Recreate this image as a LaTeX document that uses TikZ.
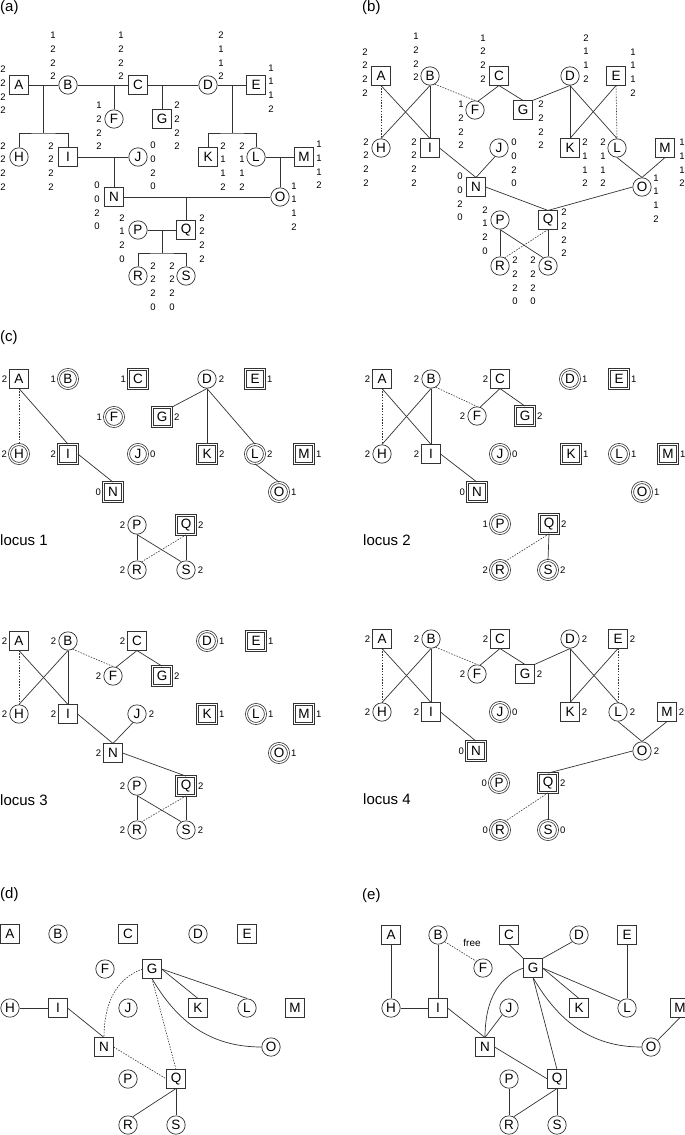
\documentclass[tikz,border=0pt]{standalone}
\usepackage{fontspec}
\setmainfont{Liberation Sans}
\newcommand\nodefnt{\fontsize{13.5}{15}\selectfont}
\newcommand\stkfnt{\fontsize{9.5}{13.7}\selectfont}
\newcommand\labfnt{\fontsize{9.5}{11}\selectfont}
\newcommand\bigfnt{\fontsize{15}{17}\selectfont}
\begin{document}
\begin{tikzpicture}[x=1pt,y=1pt,
  base/.style={draw=black!80, line width=0.7pt, minimum size=18.4pt, inner sep=0pt, font=\nodefnt},
  sq/.style={base, rectangle},
  ci/.style={base, circle},
  dsq/.style={sq, double, double distance=1.3pt, line width=0.75pt, minimum size=19pt},
  dci/.style={ci, double, double distance=1.3pt, line width=0.75pt, minimum size=19pt},
  lab/.style={font=\labfnt, inner sep=2pt},
  stk/.style={font=\stkfnt, align=center, inner sep=0pt},
  ed/.style={draw=black!80, line width=0.7pt},
  dt/.style={draw=black!80, line width=0.6pt, dash pattern=on 1.5pt off 1.3pt},
  ttl/.style={font=\bigfnt, anchor=west, inner sep=0pt},
  lb/.style={label={[lab]left:#1}},
  rb/.style={label={[lab]right:#1}}]
\useasboundingbox (0,0) rectangle (685,-1135);

% ================= (a) =================
\node[ttl] (ta) at (0,-8) {(a)};
\node[sq] (aA) at (19,-85) {A};
\node[ci] (aB) at (68,-85) {B};
\node[sq] (aC) at (138,-85) {C};
\node[ci] (aD) at (208,-85) {D};
\node[sq] (aE) at (256,-85) {E};
\node[ci] (aF) at (114,-119) {F};
\node[sq] (aG) at (162,-119) {G};
\node[ci] (aH) at (19,-157) {H};
\node[sq] (aI) at (68,-157) {I};
\node[ci] (aJ) at (138,-157) {J};
\node[sq] (aK) at (208,-157) {K};
\node[ci] (aL) at (256,-157) {L};
\node[sq] (aM) at (304,-157) {M};
\node[sq] (aN) at (114,-197) {N};
\node[ci] (aO) at (280,-197) {O};
\node[ci] (aP) at (138,-230) {P};
\node[sq] (aQ) at (186,-230) {Q};
\node[ci] (aR) at (138,-276) {R};
\node[ci] (aS) at (186,-276) {S};

\draw[ed] (aA) -- (aB); \draw[ed] (aB) -- (aC); \draw[ed] (aC) -- (aD); \draw[ed] (aD) -- (aE);
\draw[ed] (aI) -- (aJ); \draw[ed] (aL) -- (aM); \draw[ed] (aN) -- (aO); \draw[ed] (aP) -- (aQ);
\coordinate (aj1) at (43,-85); \coordinate (aj1b) at (43,-133);
\draw[ed] (aj1) -- (aj1b); \draw[ed] (aH) |- (aj1b) -| (aI);
\coordinate (aj2) at (114,-85); \draw[ed] (aj2) -- (aF);
\coordinate (aj3) at (162,-85); \draw[ed] (aj3) -- (aG);
\coordinate (aj4) at (232,-85); \coordinate (aj4b) at (232,-133);
\draw[ed] (aj4) -- (aj4b); \draw[ed] (aK) |- (aj4b) -| (aL);
\coordinate (aj5) at (114,-157); \draw[ed] (aj5) -- (aN);
\coordinate (aj6) at (280,-157); \draw[ed] (aj6) -- (aO);
\coordinate (aj7) at (186,-197); \draw[ed] (aj7) -- (aQ);
\coordinate (aj8) at (162,-230); \coordinate (aj8b) at (162,-253);
\draw[ed] (aj8) -- (aj8b); \draw[ed] (aR) |- (aj8b) -| (aS);

\node[stk] (asA) at (3,-90) {2\\2\\2\\2};
\node[stk] (asB) at (53,-56) {1\\2\\2\\2};
\node[stk] (asC) at (121,-56) {1\\2\\2\\2};
\node[stk] (asD) at (221,-56) {2\\1\\1\\2};
\node[stk] (asE) at (271,-88.5) {1\\1\\1\\2};
\node[stk] (asF) at (99,-126) {1\\2\\2\\2};
\node[stk] (asG) at (177,-126) {2\\2\\2\\2};
\node[stk] (asH) at (3,-166.5) {2\\2\\2\\2};
\node[stk] (asI) at (51,-166.5) {2\\2\\2\\2};
\node[stk] (asJ) at (153,-166) {0\\0\\2\\0};
\node[stk] (asK) at (223,-166.5) {2\\1\\1\\2};
\node[stk] (asL) at (242,-166.5) {2\\1\\1\\2};
\node[stk] (asM) at (319,-165) {1\\1\\1\\2};
\node[stk] (asN) at (97,-206) {0\\0\\2\\0};
\node[stk] (asO) at (294,-206.5) {1\\1\\1\\2};
\node[stk] (asP) at (122,-238.5) {2\\1\\2\\0};
\node[stk] (asQ) at (202,-238.5) {2\\2\\2\\2};
\node[stk] (asR) at (153,-286.5) {2\\2\\2\\0};
\node[stk] (asS) at (172,-286.5) {2\\2\\2\\0};

% ================= (b) =================
\node[ttl] (tb) at (362,-8) {(b)};
\node[sq] (bA) at (381,-76) {A};
\node[ci] (bB) at (430,-76) {B};
\node[sq] (bC) at (499,-76) {C};
\node[ci] (bD) at (570,-76) {D};
\node[sq] (bE) at (616,-76) {E};
\node[ci] (bF) at (475,-110) {F};
\node[sq] (bG) at (523,-110) {G};
\node[ci] (bH) at (381,-148) {H};
\node[sq] (bI) at (430,-148) {I};
\node[ci] (bJ) at (499,-148) {J};
\node[sq] (bK) at (570,-148) {K};
\node[ci] (bL) at (617,-148) {L};
\node[sq] (bM) at (665,-148) {M};
\node[sq] (bN) at (476,-187) {N};
\node[ci] (bO) at (642,-187) {O};
\node[ci] (bP) at (500,-220) {P};
\node[sq] (bQ) at (548,-220) {Q};
\node[ci] (bR) at (500,-266) {R};
\node[ci] (bS) at (548,-266) {S};

\draw[dt] (bA.south) -- (bH.north);
\draw[ed] (bA.south) -- (bI.north);
\draw[ed] (bB.south) -- (bH.north);
\draw[ed] (bB.south) -- (bI.north);
\draw[dt] (bB.-60) -- (bF.north);
\draw[ed] (bC.south) -- (bF.70);
\draw[ed] (bC.south) -- (bG.north);
\draw[ed] (bD.south) -- (bG.north east);
\draw[ed] (bD.south) -- (bK.north);
\draw[ed] (bD.south) -- (bL.north);
\draw[ed] (bE.south) -- (bK.north);
\draw[dt] (bE.south) -- (bL.north);
\draw[ed] (bI.east) -- (bN.north);
\draw[ed] (bJ.-115) -- (bN.north);
\draw[ed] (bL.south) -- (bO.north);
\draw[ed] (bM.south) -- (bO.north);
\draw[ed] (bN.east) -- (bQ.north);
\draw[ed] (bO.west) -- (bQ.north);
\draw[ed] (bP.south) -- (bR.north);
\draw[ed] (bP.south) -- (bS.120);
\draw[ed] (bQ.south) -- (bS.north);
\draw[dt] (bQ.south) -- (bR.60);

\node[stk] (bsA) at (365,-72.5) {2\\2\\2\\2};
\node[stk] (bsB) at (416,-57) {1\\2\\2\\2};
\node[stk] (bsC) at (483,-58.5) {1\\2\\2\\2};
\node[stk] (bsD) at (586,-58.5) {2\\1\\1\\2};
\node[stk] (bsE) at (633,-72.5) {1\\1\\1\\2};
\node[stk] (bsF) at (461,-125) {1\\2\\2\\2};
\node[stk] (bsG) at (541,-125) {2\\2\\2\\2};
\node[stk] (bsH) at (366,-162.5) {2\\2\\2\\2};
\node[stk] (bsI) at (414,-162.5) {2\\2\\2\\2};
\node[stk] (bsJ) at (514,-163) {0\\0\\2\\0};
\node[stk] (bsK) at (585,-163) {2\\1\\1\\2};
\node[stk] (bsL) at (603,-163) {2\\1\\1\\2};
\node[stk] (bsM) at (682,-163) {1\\1\\1\\2};
\node[stk] (bsN) at (460,-197) {0\\0\\2\\0};
\node[stk] (bsO) at (656,-198.5) {1\\1\\1\\2};
\node[stk] (bsP) at (485,-230.5) {2\\1\\2\\0};
\node[stk] (bsQ) at (564,-233) {2\\2\\2\\2};
\node[stk] (bsR) at (515,-281) {2\\2\\2\\0};
\node[stk] (bsS) at (533,-281) {2\\2\\2\\0};

% ================= (c) locus 1 =================
\node[ttl] (tc) at (0,-338) {(c)};
\node[ttl] (tl1) at (0,-540) {locus 1};
\node[sq, lb=2] (pA) at (19,-379) {A};
\node[dci, lb=1] (pB) at (68,-379) {B};
\node[dsq, lb=1] (pC) at (138,-379) {C};
\node[ci, rb=2] (pD) at (207,-379) {D};
\node[dsq, rb=1] (pE) at (255,-379) {E};
\node[dci, lb=1] (pF) at (114,-417) {F};
\node[dsq, rb=2] (pG) at (162,-417) {G};
\node[dci, lb=2] (pH) at (19,-454) {H};
\node[dsq, lb=2] (pI) at (68,-454) {I};
\node[dci, rb=0] (pJ) at (138,-454) {J};
\node[dsq, rb=2] (pK) at (207,-454) {K};
\node[dci, rb=2] (pL) at (255,-454) {L};
\node[dsq, rb=1] (pM) at (304,-454) {M};
\node[dsq, lb=0] (pN) at (113,-492) {N};
\node[dci, rb=1] (pO) at (279,-492) {O};
\node[ci, lb=2] (pP) at (137,-525) {P};
\node[dsq, rb=2] (pQ) at (186,-525) {Q};
\node[ci, lb=2] (pR) at (137,-570) {R};
\node[ci, rb=2] (pS) at (186,-570) {S};

\draw[dt] (pA.south) -- (pH.north);
\draw[ed] (pA.south) -- (pI.north);
\draw[ed] (pI.east) -- (pN.north);
\draw[ed] (pD.south) -- (pG.north east);
\draw[ed] (pD.south) -- (pK.north);
\draw[ed] (pD.south) -- (pL.north);
\draw[ed] (pL.south) -- (pO.north);
\draw[ed] (pP.south) -- (pR.north);
\draw[ed] (pP.south) -- (pS.120);
\draw[ed] (pQ.south) -- (pS.north);
\draw[dt] (pQ.south) -- (pR.60);

% ================= locus 2 =================
\node[ttl] (tl2) at (363,-540) {locus 2};
\node[sq, lb=2] (qA) at (382,-379) {A};
\node[ci, lb=2] (qB) at (431,-379) {B};
\node[sq, lb=2] (qC) at (500,-379) {C};
\node[dci, rb=1] (qD) at (570,-379) {D};
\node[dsq, rb=1] (qE) at (619,-379) {E};
\node[ci, lb=2] (qF) at (477,-416) {F};
\node[dsq, rb=2] (qG) at (525,-416) {G};
\node[ci, lb=2] (qH) at (382,-454) {H};
\node[sq, lb=2] (qI) at (431,-454) {I};
\node[dci, rb=0] (qJ) at (500,-454) {J};
\node[dsq, rb=1] (qK) at (571,-454) {K};
\node[dci, rb=1] (qL) at (619,-454) {L};
\node[dsq, rb=1] (qM) at (668,-454) {M};
\node[dsq, lb=0] (qN) at (477,-492) {N};
\node[dci, rb=1] (qO) at (642,-492) {O};
\node[dci, lb=1] (qP) at (500,-524) {P};
\node[dsq, rb=2] (qQ) at (549,-524) {Q};
\node[dci, lb=2] (qR) at (500,-570) {R};
\node[dci, rb=2] (qS) at (548,-570) {S};

\draw[dt] (qA.south) -- (qH.north);
\draw[ed] (qA.south) -- (qI.north);
\draw[ed] (qB.south) -- (qH.north);
\draw[ed] (qB.south) -- (qI.north);
\draw[dt] (qB.-60) -- (qF.north);
\draw[ed] (qC.south) -- (qF.70);
\draw[ed] (qC.south) -- (qG.north);
\draw[ed] (qI.east) -- (qN.north);
\draw[ed] (qQ.south) -- (qS.north);
\draw[dt] (qQ.south) -- (qR.60);

% ================= locus 3 =================
\node[ttl] (tl3) at (0,-800) {locus 3};
\node[sq, lb=2] (rA) at (19,-641) {A};
\node[ci, lb=2] (rB) at (68,-641) {B};
\node[sq, lb=2] (rC) at (137,-641) {C};
\node[dci, rb=1] (rD) at (207,-641) {D};
\node[dsq, rb=1] (rE) at (256,-641) {E};
\node[ci, lb=2] (rF) at (113,-676) {F};
\node[dsq, rb=2] (rG) at (162,-676) {G};
\node[ci, lb=2] (rH) at (19,-714) {H};
\node[sq, lb=2] (rI) at (68,-714) {I};
\node[ci, rb=2] (rJ) at (137,-714) {J};
\node[dsq, rb=1] (rK) at (207,-714) {K};
\node[dci, rb=1] (rL) at (256,-714) {L};
\node[dsq, rb=1] (rM) at (304,-714) {M};
\node[sq, lb=2] (rN) at (113,-753) {N};
\node[dci, rb=1] (rO) at (279,-753) {O};
\node[ci, lb=2] (rP) at (137,-786) {P};
\node[dsq, rb=2] (rQ) at (186,-786) {Q};
\node[ci, lb=2] (rR) at (137,-830) {R};
\node[ci, rb=2] (rS) at (186,-830) {S};

\draw[dt] (rA.south) -- (rH.north);
\draw[ed] (rA.south) -- (rI.north);
\draw[ed] (rB.south) -- (rH.north);
\draw[ed] (rB.south) -- (rI.north);
\draw[dt] (rB.-60) -- (rF.north);
\draw[ed] (rC.south) -- (rF.70);
\draw[ed] (rC.south) -- (rG.north);
\draw[ed] (rI.east) -- (rN.north);
\draw[ed] (rJ.-115) -- (rN.north);
\draw[ed] (rN.east) -- (rQ.north);
\draw[ed] (rP.south) -- (rR.north);
\draw[ed] (rP.south) -- (rS.120);
\draw[ed] (rQ.south) -- (rS.north);
\draw[dt] (rQ.south) -- (rR.60);

% ================= locus 4 =================
\node[ttl] (tl4) at (363,-799) {locus 4};
\node[sq, lb=2] (sA) at (382,-639) {A};
\node[ci, lb=2] (sB) at (431,-639) {B};
\node[sq, lb=2] (sC) at (500,-639) {C};
\node[ci, rb=2] (sD) at (570,-639) {D};
\node[sq, rb=2] (sE) at (618,-639) {E};
\node[ci, lb=2] (sF) at (477,-674) {F};
\node[sq, rb=2] (sG) at (525,-674) {G};
\node[ci, lb=2] (sH) at (382,-712) {H};
\node[sq, lb=2] (sI) at (431,-712) {I};
\node[dci, rb=0] (sJ) at (500,-712) {J};
\node[sq, rb=2] (sK) at (570,-712) {K};
\node[ci, rb=2] (sL) at (618,-712) {L};
\node[sq, rb=2] (sM) at (667,-712) {M};
\node[dsq, lb=0] (sN) at (476,-751) {N};
\node[ci, rb=2] (sO) at (642,-751) {O};
\node[dci, lb=0] (sP) at (499,-783) {P};
\node[dsq, rb=2] (sQ) at (548,-783) {Q};
\node[dci, lb=0] (sR) at (500,-830) {R};
\node[dci, rb=0] (sS) at (548,-830) {S};

\draw[dt] (sA.south) -- (sH.north);
\draw[ed] (sA.south) -- (sI.north);
\draw[ed] (sB.south) -- (sH.north);
\draw[ed] (sB.south) -- (sI.north);
\draw[dt] (sB.-60) -- (sF.north);
\draw[ed] (sC.south) -- (sF.70);
\draw[ed] (sC.south) -- (sG.north);
\draw[ed] (sD.south) -- (sG.north east);
\draw[ed] (sD.south) -- (sK.north);
\draw[ed] (sD.south) -- (sL.north);
\draw[ed] (sE.south) -- (sK.north);
\draw[dt] (sE.south) -- (sL.north);
\draw[ed] (sI.east) -- (sN.north);
\draw[ed] (sL.south) -- (sO.north);
\draw[ed] (sM.south) -- (sO.north);
\draw[ed] (sO.west) -- (sQ.north);
\draw[ed] (sQ.south) -- (sS.north);
\draw[dt] (sQ.south) -- (sR.60);

% ================= (d) =================
\node[ttl] (td) at (0,-895) {(d)};
\node[sq] (dA) at (10,-934) {A};
\node[ci] (dB) at (58,-934) {B};
\node[sq] (dC) at (128,-934) {C};
\node[ci] (dD) at (198,-934) {D};
\node[sq] (dE) at (247,-934) {E};
\node[ci] (dF) at (105,-969) {F};
\node[sq] (dG) at (152,-969) {G};
\node[ci] (dH) at (10,-1008) {H};
\node[sq] (dI) at (58,-1008) {I};
\node[ci] (dJ) at (128,-1008) {J};
\node[sq] (dK) at (198,-1008) {K};
\node[ci] (dL) at (247,-1008) {L};
\node[sq] (dM) at (295,-1008) {M};
\node[sq] (dN) at (104,-1047) {N};
\node[ci] (dO) at (271,-1047) {O};
\node[ci] (dP) at (128,-1079) {P};
\node[sq] (dQ) at (176,-1079) {Q};
\node[ci] (dR) at (128,-1125) {R};
\node[ci] (dS) at (176,-1125) {S};

\draw[ed] (dH) -- (dI);
\draw[ed] (dI.east) -- (dN.north);
\draw[dt] (dG.west) to[out=200,in=90] (dN.north);
\draw[ed] (dG.east) -- (dK.north);
\draw[ed] (dG.east) -- (dL.north);
\draw[ed] (dG.south) to[out=-60,in=180] (dO.west);
\draw[dt] (dG.south) -- (dQ.north);
\draw[dt] (dN.east) -- (dQ.west);
\draw[ed] (dQ.south) -- (dR.60);
\draw[ed] (dQ.south) -- (dS.north);

% ================= (e) =================
\node[ttl] (te) at (362,-896) {(e)};
\node[sq] (eA) at (391,-935) {A};
\node[ci] (eB) at (438,-935) {B};
\node[sq] (eC) at (509,-935) {C};
\node[ci] (eD) at (579,-935) {D};
\node[sq] (eE) at (627,-935) {E};
\node[ci] (eF) at (483,-968) {F};
\node[sq] (eG) at (533,-968) {G};
\node[ci] (eH) at (391,-1008) {H};
\node[sq] (eI) at (438,-1008) {I};
\node[ci] (eJ) at (509,-1008) {J};
\node[sq] (eK) at (579,-1008) {K};
\node[ci] (eL) at (627,-1008) {L};
\node[sq] (eM) at (680,-1008) {M};
\node[sq] (eN) at (485,-1047) {N};
\node[ci] (eO) at (651,-1047) {O};
\node[ci] (eP) at (509,-1079) {P};
\node[sq] (eQ) at (557,-1079) {Q};
\node[ci] (eR) at (509,-1125) {R};
\node[ci] (eS) at (557,-1125) {S};
\node[font=\fontsize{10}{12}\selectfont, inner sep=0pt] (free) at (472,-943) {free};

\draw[ed] (eA) -- (eH);
\draw[ed] (eB) -- (eI);
\draw[dt] (eB.south east) -- (eF.north west);
\draw[ed] (eH) -- (eI);
\draw[ed] (eC.south) -- (eG.north west);
\draw[ed] (eD.south west) -- (eG.north east);
\draw[ed] (eE) -- (eL);
\draw[ed] (eG.east) -- (eK.north);
\draw[ed] (eG.east) -- (eL.north west);
\draw[ed] (eG.west) to[out=200,in=90] (eN.north);
\draw[ed] (eG.south) to[out=-60,in=180] (eO.west);
\draw[ed] (eG.south) -- (eQ.north);
\draw[ed] (eI.east) -- (eN.north);
\draw[ed] (eJ.south west) -- (eN.north);
\draw[ed] (eN.east) -- (eQ.west);
\draw[ed] (eM.south) -- (eO.north east);
\draw[ed] (eP) -- (eR);
\draw[ed] (eQ.south) -- (eR.60);
\draw[ed] (eQ.south) -- (eS.north);
\end{tikzpicture}
\end{document}
